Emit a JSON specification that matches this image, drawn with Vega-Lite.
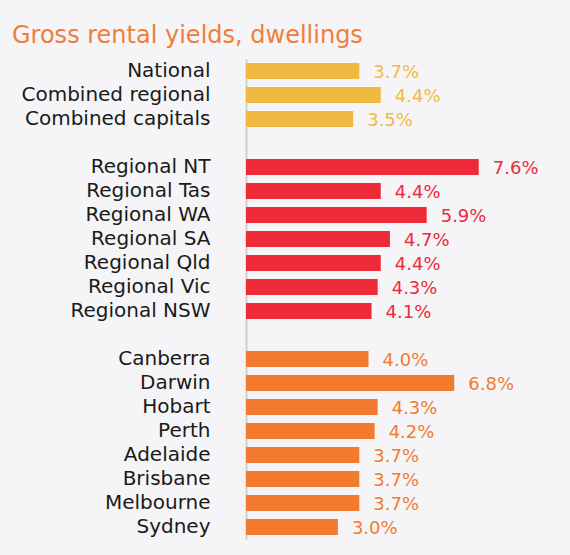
{
  "$schema": "https://vega.github.io/schema/vega-lite/v6.json",
  "autosize": "none",
  "width": 245,
  "height": 480,
  "padding": {"left": 246, "top": 59, "right": 79, "bottom": 16},
  "background": "#F5F5F7",
  "title": {
    "text": "Gross rental yields, dwellings",
    "anchor": "start",
    "frame": "group",
    "dx": -234,
    "offset": 11,
    "fontSize": 24,
    "font": "DejaVu Sans",
    "fontWeight": "normal",
    "color": "#F07D3A"
  },
  "config": {"view": {"stroke": null}, "font": "DejaVu Sans"},
  "data": {
    "values": [
      {"name": "National ", "group": "summary", "yield": 0.037},
      {"name": "Combined regional", "group": "summary", "yield": 0.044},
      {"name": "Combined capitals", "group": "summary", "yield": 0.035},
      {"name": "Regional NT", "group": "regional", "yield": 0.076},
      {"name": "Regional Tas", "group": "regional", "yield": 0.044},
      {"name": "Regional WA", "group": "regional", "yield": 0.059},
      {"name": "Regional SA", "group": "regional", "yield": 0.047},
      {"name": "Regional Qld", "group": "regional", "yield": 0.044},
      {"name": "Regional Vic", "group": "regional", "yield": 0.043},
      {"name": "Regional NSW", "group": "regional", "yield": 0.041},
      {"name": "Canberra", "group": "capital", "yield": 0.040},
      {"name": "Darwin", "group": "capital", "yield": 0.068},
      {"name": "Hobart", "group": "capital", "yield": 0.043},
      {"name": "Perth", "group": "capital", "yield": 0.042},
      {"name": "Adelaide", "group": "capital", "yield": 0.037},
      {"name": "Brisbane", "group": "capital", "yield": 0.037},
      {"name": "Melbourne", "group": "capital", "yield": 0.037},
      {"name": "Sydney", "group": "capital", "yield": 0.030}
    ]
  },
  "encoding": {
    "y": {
      "field": "name",
      "type": "nominal",
      "scale": {
        "domain": ["National ", "Combined regional", "Combined capitals", "gap1",
          "Regional NT", "Regional Tas", "Regional WA", "Regional SA", "Regional Qld", "Regional Vic", "Regional NSW", "gap2",
          "Canberra", "Darwin", "Hobart", "Perth", "Adelaide", "Brisbane", "Melbourne", "Sydney"],
        "paddingInner": 0.33,
        "paddingOuter": 0.165
      },
      "axis": {
        "title": null,
        "ticks": false,
        "labelExpr": "indexof(datum.value, 'gap') == 0 ? '' : datum.value",
        "labelFontSize": 20,
        "labelLimit": 300,
        "labelColor": "#1A1A1A",
        "labelPadding": 36,
        "domainColor": "#CFCFD3",
        "domainWidth": 2
      }
    },
    "x": {
      "field": "yield",
      "type": "quantitative",
      "scale": {"domain": [0, 0.08]},
      "axis": null
    }
  },
  "layer": [
    {
      "mark": {"type": "bar"},
      "encoding": {
        "color": {
          "field": "group",
          "type": "nominal",
          "scale": {"domain": ["summary", "regional", "capital"], "range": ["#F0BA42", "#EE2A3A", "#F27B31"]},
          "legend": null
        }
      }
    },
    {
      "mark": {"type": "text", "align": "left", "baseline": "middle", "dx": 14, "dy": 2, "fontSize": 18},
      "encoding": {
        "text": {"field": "yield", "type": "quantitative", "format": ".1%"},
        "color": {
          "field": "group",
          "type": "nominal",
          "scale": {"domain": ["summary", "regional", "capital"], "range": ["#F0BA42", "#E8404F", "#F07D3A"]},
          "legend": null
        }
      }
    }
  ]
}
